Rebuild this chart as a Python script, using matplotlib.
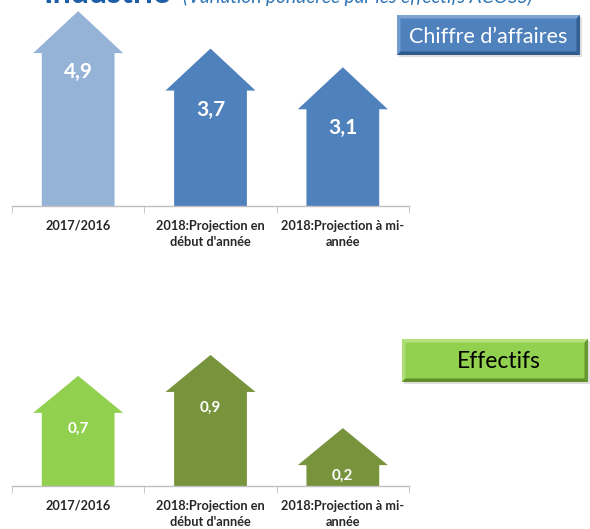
import matplotlib
matplotlib.use("Agg")
import matplotlib.pyplot as plt
from matplotlib.patches import Polygon

# ---------------- data ----------------
categories = ["2017/2016", "2018:Projection en\ndébut d'année", "2018:Projection à mi-\nannée"]
ca_values = [4.9, 3.7, 3.1]
ca_labels = ["4,9", "3,7", "3,1"]
eff_values = [0.7, 0.9, 0.2]
eff_labels = ["0,7", "0,9", "0,2"]
title_main = "Industrie"
title_sub = "(Variation pondérée par les effectifs ACOSS)"
box_ca = "Chiffre d’affaires"
box_eff = "Effectifs"

ca_colors = ["#95B3D7", "#4F81BD", "#4F81BD"]
eff_colors = ["#92D050", "#77933C", "#77933C"]

plt.rcParams['font.family'] = ['Lato', 'DejaVu Sans']

W, H = 590, 529
fig = plt.figure(figsize=(W / 100, H / 100), dpi=100)
fig.patch.set_facecolor("white")


def px_axes(left, top, right, bottom):
    return fig.add_axes([left / W, 1 - bottom / H, (right - left) / W, (bottom - top) / H])


def arrow_chart(ax, values, labels, colors, ymax, head_h, lab_off, lab_size):
    shaft_w, head_w = 0.55, 0.68
    ax.set_xlim(-0.5, len(values) - 0.5)
    ax.set_ylim(0, ymax)
    for i, (v, c) in enumerate(zip(values, colors)):
        pts = [(i - shaft_w / 2, 0), (i - shaft_w / 2, v), (i - head_w / 2, v),
               (i, v + head_h), (i + head_w / 2, v), (i + shaft_w / 2, v),
               (i + shaft_w / 2, 0)]
        ax.add_patch(Polygon(pts, closed=True, facecolor=c, edgecolor='none',
                             clip_on=False, zorder=2))
        ly = max(v - lab_off, v / 2)
        ax.text(i, ly, labels[i], ha='center', va='center', color='white',
                fontsize=lab_size, fontweight='bold', zorder=3)
    for s in ['top', 'right', 'left']:
        ax.spines[s].set_visible(False)
    ax.spines['bottom'].set_color('#BFBFBF')
    ax.spines['bottom'].set_linewidth(1.0)
    ax.set_yticks([])
    ax.set_xticks(range(len(values)))
    ax.set_xticklabels(categories, fontsize=9.2, fontweight='bold', color='#262626',
                       linespacing=1.4)
    ax.tick_params(axis='x', which='major', length=0, pad=10)
    ax.set_xticks([k - 0.5 for k in range(len(values) + 1)], minor=True)
    ax.tick_params(axis='x', which='minor', length=5, color='#BFBFBF', direction='out')
    ax.patch.set_alpha(0)


# top chart (chiffre d'affaires): baseline at 206 px, 31.2 px / unit
ax1 = px_axes(12, 10, 409, 206)
arrow_chart(ax1, ca_values, ca_labels, ca_colors, 196 / 31.2, 42 / 31.2, 19 / 31.2, 15)

# bottom chart (effectifs): baseline at 486 px, 104.5 px / unit
ax2 = px_axes(12, 340, 409, 486)
arrow_chart(ax2, eff_values, eff_labels, eff_colors, 146 / 104.5, 37 / 104.5, 16 / 104.5, 11)

# overlay in pixel coordinates for title and boxes
ov = fig.add_axes([0, 0, 1, 1], zorder=5)
ov.set_xlim(0, W)
ov.set_ylim(H, 0)
ov.axis('off')
ov.patch.set_alpha(0)


def bevel_box(x0, y0, x1, y1, main, light, dark, bw=3.5):
    # shadow
    ov.add_patch(Polygon([(x0 + 2, y0 + 2), (x1 + 2, y0 + 2), (x1 + 2, y1 + 2), (x0 + 2, y1 + 2)],
                         facecolor='#C8C8C8', edgecolor='none', alpha=0.6))
    ov.add_patch(Polygon([(x0, y0), (x1, y0), (x1, y1), (x0, y1)], facecolor=main,
                         edgecolor='none'))
    ov.add_patch(Polygon([(x0, y0), (x1, y0), (x1 - bw, y0 + bw), (x0 + bw, y0 + bw)],
                         facecolor=light, edgecolor='none'))
    ov.add_patch(Polygon([(x0, y0), (x0 + bw, y0 + bw), (x0 + bw, y1 - bw), (x0, y1)],
                         facecolor=light, edgecolor='none', alpha=0.8))
    ov.add_patch(Polygon([(x0, y1), (x0 + bw, y1 - bw), (x1 - bw, y1 - bw), (x1, y1)],
                         facecolor=dark, edgecolor='none'))
    ov.add_patch(Polygon([(x1, y0), (x1, y1), (x1 - bw, y1 - bw), (x1 - bw, y0 + bw)],
                         facecolor=dark, edgecolor='none', alpha=0.85))


bevel_box(397, 15, 580, 55, '#4F81BD', '#7FA4D4', '#2F5A8C')
ov.text(488, 43, box_ca, ha='center', va='baseline', color='white', fontsize=15.5)

bevel_box(402, 339, 588, 382, '#92D050', '#B5E27F', '#5F8E2A')
ov.text(499, 368, box_eff, ha='center', va='baseline', color='black', fontsize=16.5)

# title (cut at the top in the reference)
ov.text(43, 3, title_main, ha='left', va='baseline', color='#1F5FA8',
        fontsize=23, fontweight='bold')
ov.text(183, 3, title_sub, ha='left', va='baseline', color='#2E74B5',
        fontsize=13.8, fontstyle='italic')

fig.savefig("out.png", dpi=100)
